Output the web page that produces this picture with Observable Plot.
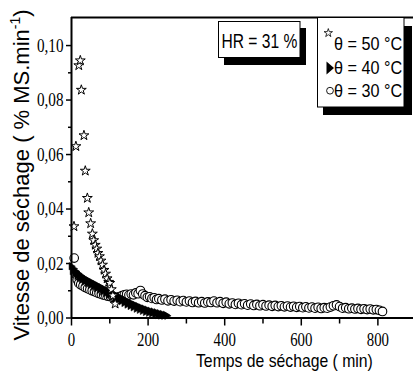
<!DOCTYPE html>
<html><head><meta charset="utf-8">
<script src="https://cdn.jsdelivr.net/npm/d3@7"></script>
<script src="https://cdn.jsdelivr.net/npm/@observablehq/plot@0.6"></script>
<style>html,body{margin:0;padding:0;background:#fff;}</style>
</head><body><div id="chart"></div>
<script>
// ---- data (time in min, drying rate in % MS.min-1) ----
const starT = [6.5, 11.5, 19, 23, 25.7, 32.5, 36, 41.4, 45, 50, 54.5, 58, 62, 66, 69, 73, 77, 81, 85, 89, 93, 97, 100, 104, 108, 114];
const starV = [0.0336, 0.063, 0.0927, 0.0945, 0.0837, 0.067, 0.054, 0.044, 0.0387, 0.0347, 0.0309, 0.0285, 0.0268, 0.0254, 0.0238, 0.0226, 0.021, 0.0195, 0.0176, 0.0162, 0.0145, 0.0132, 0.0128, 0.0105, 0.0082, 0.0052];

const triT = [0,3,6,9,12,15,18,21,24,27,30,34,38,42,46,50,54,58,62,66,70,74,78,82,86,90,94,98,102,106,110,114,118,122,126,130,134,138,142,146,150,154,158,162,166,170,174,178,182,186,190,194,198,202,206,210,214,218,222,226,230,234,238,242,246,250];
const triV = [0.0190,0.0172,0.0181,0.0163,0.0171,0.0154,0.0163,0.0147,0.0156,0.0140,0.0150,0.0133,0.0143,0.0127,0.0137,0.0121,0.0131,0.0115,0.0125,0.0109,0.0119,0.0103,0.0113,0.0097,0.0107,0.0091,0.0101,0.0085,0.0095,0.0079,0.0089,0.0073,0.0083,0.0067,0.0077,0.0061,0.0071,0.0055,0.0065,0.0049,0.0059,0.0044,0.0054,0.0039,0.0049,0.0034,0.0044,0.0030,0.0039,0.0026,0.0035,0.0022,0.0031,0.0019,0.0027,0.0016,0.0024,0.0013,0.0021,0.0011,0.0018,0.0009,0.0015,0.0008,0.0012,0.0008];

const circT = [7,11,15,19,24,30,36,42,48,54,60,66,72,78,84,90,96,102,108,114,120,126,132,138,144,150,156,162,168,174,180,186,192,198,204,210,216,222,228,236,244,252,260,268,276,284,292,300,308,316,324,332,340,348,356,364,372,380,388,396,404,412,420,428,436,444,452,460,468,476,484,492,500,508,516,524,532,540,548,556,564,572,580,588,596,604,612,620,628,636,644,652,660,668,676,684,692,700,708,716,724,732,740,748,756,764,772,780,788,796,804,812];
const circV = [0.0220,0.0160,0.0140,0.0128,0.0122,0.0117,0.0112,0.0108,0.0104,0.0100,0.0097,0.0093,0.0090,0.0087,0.0084,0.0082,0.0080,0.0078,0.0076,0.0075,0.0076,0.0079,0.0082,0.0085,0.0087,0.0084,0.0088,0.0085,0.0092,0.0089,0.0101,0.0088,0.0082,0.0076,0.0078,0.0072,0.0074,0.0068,0.0071,0.0066,0.0069,0.0063,0.0067,0.0062,0.0065,0.0060,0.0064,0.0059,0.0062,0.0057,0.0061,0.0056,0.0060,0.0055,0.0059,0.0057,0.0062,0.0056,0.0060,0.0054,0.0058,0.0052,0.0055,0.0050,0.0054,0.0049,0.0052,0.0047,0.0051,0.0046,0.0050,0.0045,0.0049,0.0044,0.0047,0.0043,0.0046,0.0042,0.0045,0.0041,0.0044,0.0040,0.0043,0.0039,0.0042,0.0038,0.0041,0.0037,0.0040,0.0036,0.0039,0.0035,0.0038,0.0036,0.0040,0.0045,0.0048,0.0042,0.0036,0.0038,0.0034,0.0036,0.0033,0.0035,0.0032,0.0034,0.0031,0.0033,0.0030,0.0031,0.0028,0.0024];

const xMajor = [0, 200, 400, 600, 800];
const xMinor = [100, 300, 500, 700];
const yMajor = [0, 0.02, 0.04, 0.06, 0.08, 0.10];
const yMinor = [0.01, 0.03, 0.05, 0.07, 0.09];
const xDomain = [0, 893];
const yDomain = [0, 0.1103];

const xTitle = "Temps de séchage ( min)";
const yTitle = "Vitesse de séchage ( % MS.min";
const ySup = "-1";
const yTitleEnd = ")";
const hrLabel = "HR = 31 %";
const seriesLabels = ["θ = 50 °C", "θ = 40 °C", "θ = 30 °C"];

// ---- build ----
const stars = starT.map((t, i) => ({t, v: starV[i]}));
const tris = triT.map((t, i) => ({t, v: triV[i]}));
const circs = circT.map((t, i) => ({t, v: circV[i]}));

const triRight = {
  draw(ctx, size) {
    const r = Math.sqrt(size / Math.PI);
    ctx.moveTo(r * 1.1, 0);
    ctx.lineTo(-r * 0.7, r * 1.05);
    ctx.lineTo(-r * 0.7, -r * 1.05);
    ctx.closePath();
  }
};

const fmt = d => d.toFixed(2).replace(".", ",");
const serif = "Liberation Serif";
const sans = "Liberation Sans";

const chart = Plot.plot({
  width: 413,
  height: 374,
  marginLeft: 71,
  marginRight: 0,
  marginTop: 17,
  marginBottom: 56.5,
  x: {domain: xDomain, label: null},
  y: {domain: yDomain, label: null},
  style: {background: "white", color: "black", fontFamily: serif, fontSize: "19px"},
  marks: [
    Plot.axisX(xMajor, {tickSize: 8, tickPadding: 7, strokeWidth: 1.5, tickFormat: d => String(d), label: null, fontSize: 18.5, fontFamily: serif}),
    Plot.axisX(xMinor, {tickSize: 6, strokeWidth: 1.5, tickFormat: () => "", label: null}),
    Plot.axisY(yMajor, {tickSize: 5, tickPadding: 3, strokeWidth: 1.5, tickFormat: fmt, label: null, fontSize: 19, fontFamily: serif}),
    Plot.axisY(yMinor, {tickSize: 3, strokeWidth: 1.5, tickFormat: () => "", label: null}),
    Plot.dot(circs, {x: "t", y: "v", r: 4.3, fill: "white", stroke: "black", strokeWidth: 1.1}),
    Plot.dot(tris, {x: "t", y: "v", r: 3.5, symbol: triRight, fill: "black", stroke: "black", strokeWidth: 0.5}),
    Plot.dot(stars, {x: "t", y: "v", r: 3.1, symbol: "star", fill: "white", stroke: "black", strokeWidth: 1}),
    Plot.ruleX([xDomain[0]], {strokeWidth: 2}),
    Plot.ruleY([yDomain[0]], {strokeWidth: 2}),
    Plot.ruleY([yDomain[1]], {strokeWidth: 2})
  ]
});

document.getElementById("chart").appendChild(chart);

const svg = d3.select(chart.tagName.toLowerCase() === "svg" ? chart : chart.querySelector("svg"));
// narrow the numeric tick labels (condensed serif face in the original)
svg.selectAll('g[aria-label$="tick label"] text').each(function () {
  const tr = this.getAttribute("transform") || "";
  this.setAttribute("transform", tr + " scale(0.8,1)");
  this.setAttribute("font-family", serif);
});

function label(x, y, str, size, sx, family, anchor) {
  return svg.append("text")
    .attr("transform", `translate(${x},${y}) scale(${sx},1)`)
    .attr("font-family", family).attr("font-size", size)
    .attr("text-anchor", anchor || "start").attr("fill", "black")
    .text(str);
}

// axis titles
label(196, 366.5, xTitle, 19, 0.83, sans);
const yt = svg.append("text")
  .attr("transform", "translate(28.5,175) rotate(-90)")
  .attr("font-family", sans).attr("font-size", 22)
  .attr("text-anchor", "middle").attr("fill", "black");
yt.append("tspan").text(yTitle);
yt.append("tspan").attr("font-size", 14).attr("dy", -9).text(ySup);
yt.append("tspan").attr("dy", 9).text(yTitleEnd);

// HR box
svg.append("rect").attr("x", 224).attr("y", 28).attr("width", 82).attr("height", 37).attr("fill", "black");
svg.append("rect").attr("x", 218.5).attr("y", 21.5).attr("width", 81.5).attr("height", 36)
  .attr("fill", "white").attr("stroke", "black").attr("stroke-width", 1);
label(221.5, 48.3, hrLabel, 20, 0.78, sans);

// series legend box
svg.append("rect").attr("x", 323).attr("y", 26).attr("width", 89).attr("height", 89).attr("fill", "black");
svg.append("rect").attr("x", 317.5).attr("y", 17.5).attr("width", 86.5).attr("height", 89.5)
  .attr("fill", "white").attr("stroke", "black").attr("stroke-width", 1);
svg.append("path").attr("d", d3.symbol(d3.symbolStar, 22)()).attr("transform", "translate(328.3,33)")
  .attr("fill", "white").attr("stroke", "black").attr("stroke-width", 0.8);
svg.append("path").attr("d", "M326.5,61.5 L334,68 L326.5,74.5 Z").attr("fill", "black");
svg.append("circle").attr("cx", 330).attr("cy", 90.7).attr("r", 3.4)
  .attr("fill", "white").attr("stroke", "black").attr("stroke-width", 0.9);
const rowY = [50, 74, 97];
seriesLabels.forEach((s, i) => label(334, rowY[i], s, 18, 0.9, sans));
</script>
</body></html>
